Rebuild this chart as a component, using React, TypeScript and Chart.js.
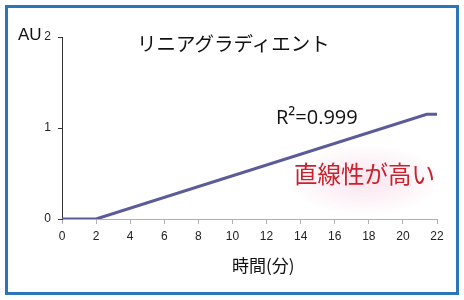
import React, { useEffect, useRef } from "react";
import { Chart, registerables } from "chart.js";

Chart.register(...registerables);

// Data
const timeMin = [0, 2, 21.4, 22];
const signalAU = [0, 0, 1.15, 1.15];
const xTicks = [0, 2, 4, 6, 8, 10, 12, 14, 16, 18, 20, 22];
const yTicks = [0, 1, 2];
const titleText = "リニアグラディエント";
const r2Text = "R²=0.999";
const noteText = "直線性が高い";
const xAxisLabel = "時間(分)";
const yAxisLabel = "AU";

const W = 464;
const H = 300;

export default function App() {
  const ref = useRef<HTMLCanvasElement | null>(null);

  useEffect(() => {
    const canvas = ref.current;
    if (!canvas) return;
    const chart = new Chart(canvas, {
      type: "line",
      data: {
        datasets: [
          {
            data: timeMin.map((t, i) => ({ x: t, y: signalAU[i] })),
            borderColor: "#5b5b99",
            borderWidth: 3,
            pointRadius: 0,
            tension: 0,
            fill: false,
          },
        ],
      },
      options: {
        animation: false,
        responsive: false,
        maintainAspectRatio: false,
        layout: { padding: { left: 0, right: 27, top: 37, bottom: 0 } },
        plugins: { legend: { display: false }, tooltip: { enabled: false }, title: { display: false } },
        scales: {
          x: {
            type: "linear",
            min: 0,
            max: 22,
            afterBuildTicks: (s: any) => {
              s.ticks = xTicks.map((v) => ({ value: v }));
            },
            afterFit: (s: any) => {
              s.height = 81;
            },
            border: { display: true, color: "#b0b0b0", width: 1 },
            grid: { drawOnChartArea: false, drawTicks: true, tickLength: 5, color: "#b0b0b0" },
            ticks: {
              color: "#222",
              font: { family: "'Liberation Sans', Arial, sans-serif", size: 12 },
              padding: 5,
              maxRotation: 0,
              autoSkip: false,
            },
          },
          y: {
            type: "linear",
            min: 0,
            max: 2,
            afterBuildTicks: (s: any) => {
              s.ticks = yTicks.map((v) => ({ value: v }));
            },
            afterFit: (s: any) => {
              s.width = 62;
            },
            border: { display: true, color: "#333", width: 1 },
            grid: { drawOnChartArea: false, drawTicks: true, tickLength: 4, color: "#333" },
            ticks: {
              color: "#222",
              font: { family: "'Liberation Sans', Arial, sans-serif", size: 12 },
              padding: 7,
              autoSkip: false,
            },
          },
        },
      },
    });
    return () => chart.destroy();
  }, []);

  const abs = (o: React.CSSProperties): React.CSSProperties => ({
    position: "absolute",
    whiteSpace: "nowrap",
    lineHeight: 1,
    ...o,
  });

  return (
    <div style={{ position: "fixed", left: 0, top: 0, width: W, height: H, background: "#fff", overflow: "hidden" }}>
      <canvas ref={ref} width={W} height={H} style={{ position: "absolute", left: 0, top: 0, width: W, height: H }} />
      <div
        style={abs({
          left: 290,
          top: 146,
          width: 150,
          height: 68,
          borderRadius: "50%",
          background: "radial-gradient(ellipse at center, rgba(238,170,200,0.32) 0%, rgba(245,200,220,0.16) 50%, rgba(255,255,255,0) 75%)",
        })}
      />
      <div
        style={abs({
          left: 5,
          top: 5,
          width: 454,
          height: 290,
          boxSizing: "border-box",
          border: "3px solid #2b76b8",
          pointerEvents: "none",
        })}
      />
      <div style={abs({ left: 137, top: 33, fontSize: 19.5, fontFamily: "'Noto Sans CJK JP', sans-serif", color: "#111" })}>
        {titleText}
      </div>
      <div style={abs({ left: 18, top: 26, fontSize: 17, fontFamily: "'Liberation Sans', Arial, sans-serif", color: "#111" })}>
        {yAxisLabel}
      </div>
      <div style={abs({ left: 276, top: 107, fontSize: 20, fontFamily: "'Open Sans', sans-serif", color: "#111" })}>
        {r2Text}
      </div>
      <div style={abs({ left: 294, top: 162, fontSize: 23.5, fontFamily: "'Noto Sans CJK JP', sans-serif", color: "#c8222c" })}>
        {noteText}
      </div>
      <div style={abs({ left: 232, top: 256, fontSize: 17, fontFamily: "'Noto Sans CJK JP', sans-serif", color: "#111" })}>
        {xAxisLabel}
      </div>
    </div>
  );
}
